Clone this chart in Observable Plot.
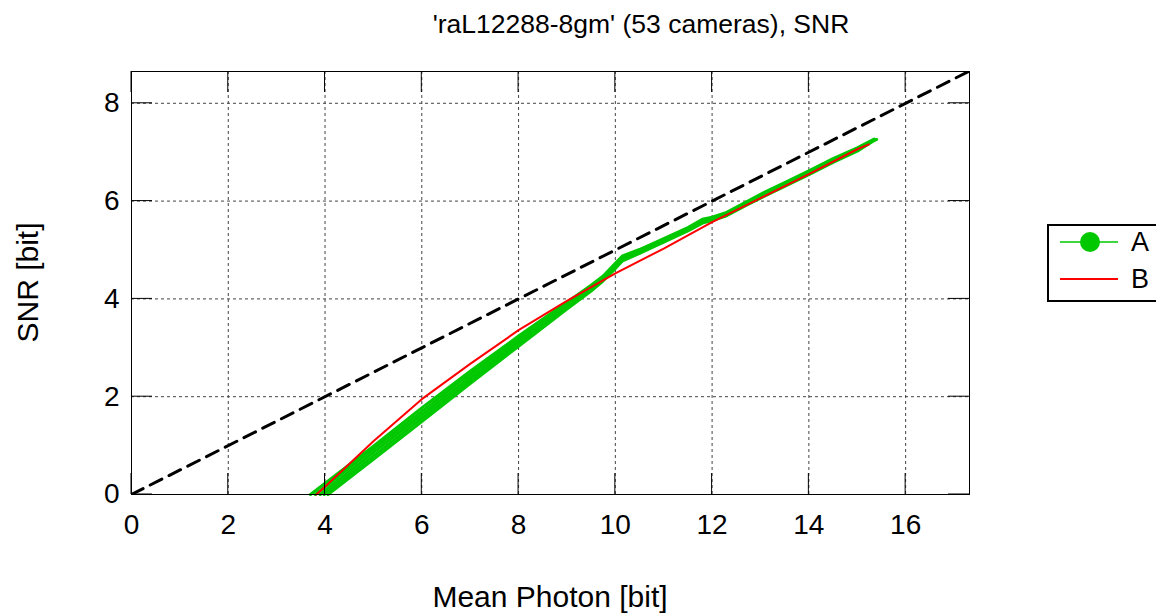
<!DOCTYPE html>
<html>
<head>
<meta charset="utf-8">
<script src="https://cdn.jsdelivr.net/npm/d3@7"></script>
<script src="https://cdn.jsdelivr.net/npm/@observablehq/plot@0.6"></script>
<style>
  html, body { margin: 0; padding: 0; background: #fff; }
  #chart { width: 1156px; height: 615px; overflow: hidden; }
  svg { font-family: "Liberation Sans", Arial, sans-serif; }
</style>
</head>
<body>
<div id="chart"></div>
<script>
// ---- data ----
const title = "'raL12288-8gm' (53 cameras), SNR";
const xLabel = "Mean Photon [bit]";
const yLabel = "SNR [bit]";
const xTicks = [0, 2, 4, 6, 8, 10, 12, 14, 16];
const yTicks = [0, 2, 4, 6, 8];
const xDomain = [0, 17.32];
const yDomain = [0, 8.65];
const seriesNames = ["A", "B"];

// reference line SNR = mean/2
const refLine = [[0, 0], [17.4, 8.7]];

// series A: several cameras (thick green band)
const greenA1 = [[3.70,0],[5,0.99],[6,1.77],[7,2.52],[8,3.24],[9,3.93],[9.5,4.28],[9.75,4.47],[10,4.73],[10.15,4.88],[10.5,5.01],[11,5.23],[11.5,5.46],[11.8,5.63],[12,5.67],[12.3,5.77],[12.7,5.98],[13,6.14],[13.5,6.38],[14,6.62],[14.5,6.87],[15,7.09],[15.35,7.27]];
const greenA2 = [[3.80,0],[5,0.93],[6,1.70],[7,2.46],[8,3.19],[9,3.90],[9.5,4.25],[9.75,4.45],[10,4.71],[10.15,4.86],[10.5,5.00],[11,5.21],[11.5,5.44],[11.8,5.61],[12,5.65],[12.3,5.75],[12.7,5.96],[13,6.12],[13.5,6.36],[14,6.60],[14.5,6.85],[15,7.07],[15.4,7.26]];
const greenA3 = [[3.90,0],[5,0.86],[6,1.63],[7,2.39],[8,3.13],[9,3.85],[9.5,4.22],[9.75,4.42],[10,4.68],[10.15,4.84],[10.5,4.98],[11,5.20],[11.5,5.43],[11.8,5.60],[12,5.64],[12.3,5.74],[12.7,5.95],[13,6.10],[13.5,6.34],[14,6.58],[14.5,6.83],[15,7.06],[15.35,7.24]];
const greenA4 = [[3.98,0],[5,0.79],[6,1.56],[7,2.33],[8,3.08],[9,3.82],[9.5,4.19],[9.75,4.40],[10,4.65],[10.15,4.81],[10.5,4.96],[11,5.18],[11.5,5.41],[11.8,5.57],[12,5.62],[12.3,5.72],[12.7,5.93],[13,6.08],[13.5,6.32],[14,6.56],[14.5,6.81],[15,7.04],[15.3,7.21]];
const greenA5 = [[4.06,0],[5,0.72],[6,1.49],[7,2.27],[8,3.03],[9,3.79],[9.5,4.16],[9.75,4.37],[10,4.62],[10.15,4.78],[10.5,4.93],[11,5.16],[11.5,5.39],[11.8,5.55],[12,5.60],[12.3,5.70],[12.7,5.91],[13,6.06],[13.5,6.30],[14,6.54],[14.5,6.79],[15,7.02],[15.25,7.18]];

// series B
const redB = [[3.82,0],[4,0.16],[5,1.09],[6,1.95],[7,2.67],[8,3.36],[9,3.96],[10,4.52],[11,5.03],[12,5.57],[13,6.06],[14,6.55],[15,7.06],[15.24,7.16]];

// ---- build tables ----
const greenCams = [greenA1, greenA2, greenA3, greenA4, greenA5];
const greenData = greenCams.flatMap((pts, i) => pts.map(([x, y]) => ({x, y, cam: i})));
const redData = redB.map(([x, y]) => ({x, y}));
const refData = refLine.map(([x, y]) => ({x, y}));

const mL = 131, mR = 187, mT = 71, mB = 121, W = 1156, H = 615;

const chart = Plot.plot({
  width: W,
  height: H,
  marginLeft: mL,
  marginRight: mR,
  marginTop: mT,
  marginBottom: mB,
  style: {fontFamily: "Liberation Sans, Arial, sans-serif", background: "#fff", color: "#000"},
  x: {domain: xDomain, label: null},
  y: {domain: yDomain, label: null},
  marks: [
    Plot.gridX(xTicks, {stroke: "#444", strokeOpacity: 1, strokeWidth: 1, strokeDasharray: "3,3"}),
    Plot.gridY(yTicks, {stroke: "#444", strokeOpacity: 1, strokeWidth: 1, strokeDasharray: "3,3"}),
    Plot.line(refData, {x: "x", y: "y", stroke: "#000", strokeWidth: 3, strokeDasharray: "13,8", clip: true}),
    Plot.line(greenData, {x: "x", y: "y", z: "cam", stroke: "#00c800",
      strokeWidth: 3, strokeLinejoin: "round", strokeLinecap: "round"}),
    Plot.line(redData, {x: "x", y: "y", stroke: "#ff0000", strokeWidth: 2}),
    Plot.axisX(xTicks, {tickSize: 0, tickPadding: 20, fontSize: 28, label: null}),
    Plot.axisY(yTicks, {tickSize: 0, tickPadding: 12, fontSize: 28, label: null}),
    Plot.frame({stroke: "#000", strokeWidth: 1})
  ]
});

document.getElementById("chart").appendChild(chart);

// inward ticks on all four sides, placed with Plot's scales
const svg = d3.select(chart);
const sx = chart.scale("x"), sy = chart.scale("y");
const x0 = mL, x1 = W - mR, y0 = H - mB, y1 = mT, tl = 21;
const tg = svg.append("g").attr("stroke", "#000").attr("stroke-width", 1);
xTicks.forEach(t => {
  const px = sx.apply(t);
  tg.append("line").attr("x1", px).attr("x2", px).attr("y1", y0).attr("y2", y0 - tl);
  tg.append("line").attr("x1", px).attr("x2", px).attr("y1", y1).attr("y2", y1 + tl);
});
yTicks.forEach(t => {
  const py = sy.apply(t);
  tg.append("line").attr("y1", py).attr("y2", py).attr("x1", x0).attr("x2", x0 + tl);
  tg.append("line").attr("y1", py).attr("y2", py).attr("x1", x1).attr("x2", x1 - tl);
});

// title and axis labels
svg.append("text").attr("x", 641).attr("y", 33).attr("text-anchor", "middle")
  .attr("font-size", 26.5).attr("fill", "#000").text(title);
svg.append("text").attr("x", (x0 + x1) / 2).attr("y", 607).attr("text-anchor", "middle")
  .attr("font-size", 30).attr("fill", "#000").text(xLabel);
svg.append("text").attr("transform", `translate(38,${(y0 + y1) / 2}) rotate(-90)`)
  .attr("text-anchor", "middle").attr("font-size", 30).attr("fill", "#000").text(yLabel);

// legend
const lg = svg.append("g").attr("text-anchor", "start");
lg.append("rect").attr("x", 1048).attr("y", 225).attr("width", 130).attr("height", 76)
  .attr("fill", "#fff").attr("stroke", "#000").attr("stroke-width", 2);
lg.append("line").attr("x1", 1060).attr("x2", 1118).attr("y1", 242).attr("y2", 242)
  .attr("stroke", "#00c800").attr("stroke-width", 1.5);
lg.append("circle").attr("cx", 1090).attr("cy", 242).attr("r", 10).attr("fill", "#00c800");
lg.append("text").attr("x", 1131).attr("y", 242).attr("dy", "0.35em").attr("font-size", 27)
  .attr("text-anchor", "start").attr("fill", "#000").text(seriesNames[0]);
lg.append("line").attr("x1", 1060).attr("x2", 1118).attr("y1", 279).attr("y2", 279)
  .attr("stroke", "#ff0000").attr("stroke-width", 2);
lg.append("text").attr("x", 1131).attr("y", 279).attr("dy", "0.35em").attr("font-size", 27)
  .attr("text-anchor", "start").attr("fill", "#000").text(seriesNames[1]);
</script>
</body>
</html>
